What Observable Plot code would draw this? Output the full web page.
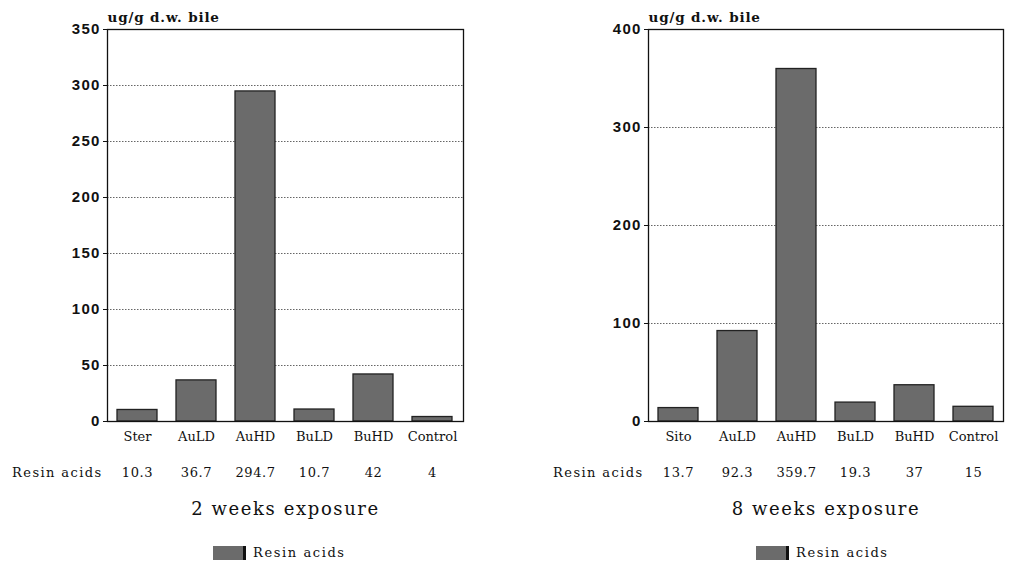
<!DOCTYPE html>
<html>
<head>
<meta charset="utf-8">
<script src="https://cdn.jsdelivr.net/npm/d3@7"></script>
<script src="https://cdn.jsdelivr.net/npm/@observablehq/plot@0.6"></script>
<style>
  html, body { margin: 0; padding: 0; background: #fff; }
  #wrap { position: relative; width: 1013px; height: 569px; overflow: hidden; }
  .panel { position: absolute; top: 0; }
  .legend { position: absolute; top: 545px; display: flex; align-items: center;
            font-family: "DejaVu Serif", serif; font-size: 13px; letter-spacing: 1.6px; color: #111; }
  .legend .sw { display: inline-block; width: 30px; height: 14px; background: #6b6b6b;
                border-right: 3px solid #111; margin-right: 7px; }
  svg text { fill: #111; }
  g[aria-label="y-axis tick label"] text { letter-spacing: 1.2px; }
</style>
</head>
<body>
<div id="wrap"></div>
<script>
// Resin acids in bile (ug/g dry weight), two exposure periods
const groups2w = ["Ster", "AuLD", "AuHD", "BuLD", "BuHD", "Control"];
const resin2w = [10.3, 36.7, 294.7, 10.7, 42, 4];
const ticks2w = [0, 50, 100, 150, 200, 250, 300, 350];

const groups8w = ["Sito", "AuLD", "AuHD", "BuLD", "BuHD", "Control"];
const resin8w = [13.7, 92.3, 359.7, 19.3, 37, 15];
const ticks8w = [0, 100, 200, 300, 400];

const seriesName = "Resin acids";
const unitLabel = "ug/g d.w. bile";
const titles = ["2 weeks exposure", "8 weeks exposure"];

const serif = "'DejaVu Serif', serif";
const sans = "'Liberation Sans', Arial, sans-serif";

// letter spacing for the text marks, in the order they are listed below
const textSpacing = ["0.6px", "1.4px", "1.6px", "0.85px"];

function panel({groups, values, ticks, title, left, width, mLeft, mRight, legendLeft}) {
  const data = groups.map((g, i) => ({group: g, value: values[i]}));
  const yMax = ticks[ticks.length - 1];
  const chart = Plot.plot({
    width,
    height: 569,
    marginTop: 29,
    marginBottom: 148,
    marginLeft: mLeft,
    marginRight: mRight,
    style: {background: "transparent", overflow: "visible"},
    x: {domain: groups, paddingInner: 0.32, paddingOuter: 0.16, label: null},
    y: {domain: [0, yMax], ticks, label: null},
    marks: [
      Plot.gridY(ticks.filter(t => t > 0 && t < yMax), {stroke: "#555", strokeOpacity: 0.9, strokeDasharray: "1.5,1.5", strokeWidth: 1}),
      Plot.barY(data, {x: "group", y: "value", fill: "#6b6b6b", stroke: "#222", strokeWidth: 1.3}),
      Plot.frame({stroke: "#111", strokeWidth: 1.3}),
      Plot.axisY(ticks, {tickSize: 4, tickPadding: 3, fontSize: 15, fontWeight: "bold", fontFamily: sans, stroke: "#111"}),
      Plot.axisX({tickSize: 0, tickPadding: 10, fontSize: 13, fontFamily: serif}),
      // value table under the axis
      Plot.text(data, {x: "group", y: () => 0, text: d => String(d.value), dy: 51,
                       fontSize: 13, fontFamily: serif}),
      Plot.text([seriesName], {frameAnchor: "bottom-left", lineAnchor: "middle", textAnchor: "end", dx: -5, dy: 51,
                               fontSize: 13, fontFamily: serif}),
      Plot.text([title], {frameAnchor: "bottom", lineAnchor: "middle", dy: 88, fontSize: 18, fontFamily: serif}),
      Plot.text([unitLabel], {frameAnchor: "top-left", textAnchor: "start", dy: -17,
                              fontSize: 13.5, fontWeight: "bold", fontFamily: serif})
    ]
  });
  d3.select(chart).selectAll('g[aria-label="text"]').each(function(_, i) {
    d3.select(this).selectAll("text").style("letter-spacing", textSpacing[i] || null);
  });

  const div = document.createElement("div");
  div.className = "panel";
  div.style.left = left + "px";
  div.appendChild(chart);
  document.getElementById("wrap").appendChild(div);

  const leg = document.createElement("div");
  leg.className = "legend";
  leg.style.left = legendLeft + "px";
  leg.innerHTML = `<span class="sw"></span><span>${seriesName}</span>`;
  document.getElementById("wrap").appendChild(leg);
}

panel({groups: groups2w, values: resin2w, ticks: ticks2w, title: titles[0],
       left: 0, width: 480, mLeft: 107, mRight: 17, legendLeft: 213});
panel({groups: groups8w, values: resin8w, ticks: ticks8w, title: titles[1],
       left: 540, width: 473, mLeft: 108, mRight: 10, legendLeft: 756});
</script>
</body>
</html>
